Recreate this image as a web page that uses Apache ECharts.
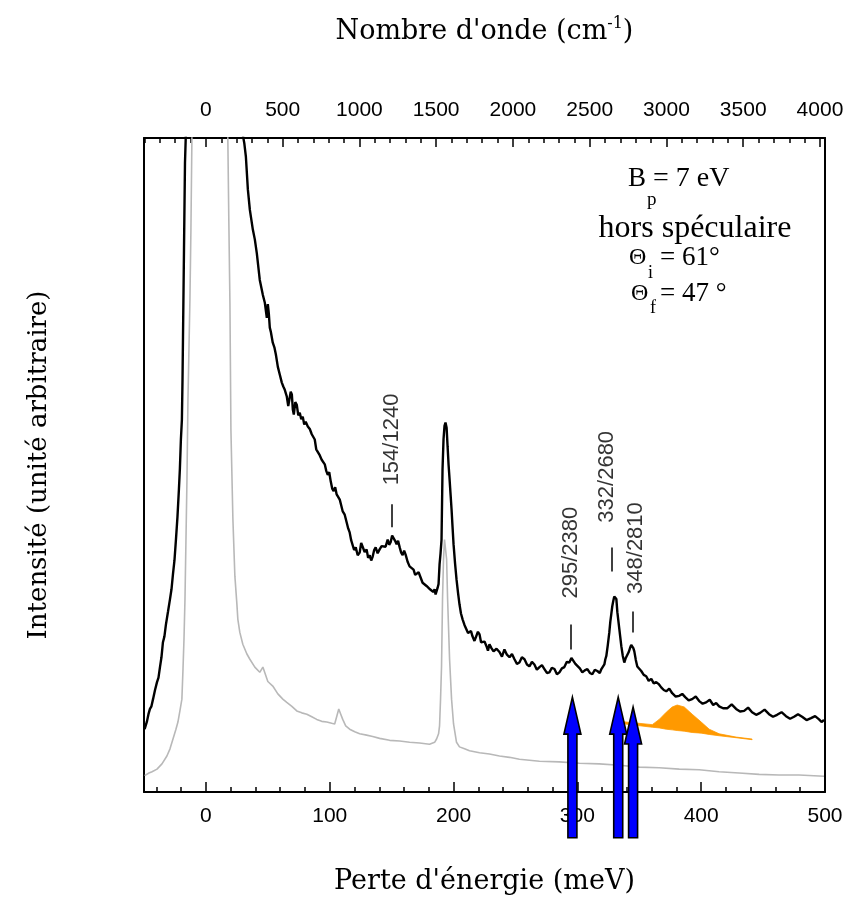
<!DOCTYPE html>
<html><head><meta charset="utf-8">
<script src="https://cdn.jsdelivr.net/npm/echarts@6/dist/echarts.min.js"></script>
<style>html,body{margin:0;padding:0;background:#fff}#c{width:853px;height:900px}</style>
</head><body><div id="c"></div>
<script>
// ---- data (energy loss in meV, intensity in arbitrary units 0-100) ----
const blackSpectrum = [
[-49.5,9.6],[-47.6,10.8],[-46.4,11.9],[-45.2,12.7],[-44.0,13.1],[-42.7,14.2],[-41.1,15.6],[-39.5,16.8],[-38.3,17.5],[-37.1,19.1],[-35.9,20.6],[-34.7,22.9],[-33.5,23.8],[-32.3,25.6],[-30.6,27.6],[-29.0,29.5],[-27.8,31.0],[-26.6,33.3],[-25.4,35.4],[-24.2,38.6],[-23.0,42.0],[-21.8,46.3],[-21.0,49.5],[-20.2,53.9],[-19.4,56.9],[-18.9,63.0],[-18.5,69.6],[-17.7,82.9],[-16.9,96.2],[-16.1,101.2],[-12,120],[-5,135],[0,140],[10,138],[20,125],[27,108],
[29.8,100.5],[31.0,99.2],[32.3,97.1],[33.9,92.1],[35.5,89.0],[37.9,86.0],[39.5,84.5],[41.1,82.4],[43.5,78.3],[46.0,76.0],[47.6,74.8],[49.2,72.5],[50.0,74.6],[50.8,73.2],[51.6,71.0],[52.4,70.4],[54.0,68.7],[55.3,68.0],[56.5,66.9],[58.1,65.0],[59.7,63.8],[61.3,62.6],[62.5,62.0],[63.7,61.5],[65.3,60.5],[66.5,59.0],[67.7,59.2],[68.5,61.2],[69.4,60.8],[70.2,58.5],[71.0,57.7],[72.2,59.6],[73.4,59.2],[74.6,57.6],[75.8,58.0],[77.0,57.0],[78.2,57.4],[79.4,56.2],[80.6,56.6],[82.3,55.9],[83.9,55.5],[85.5,54.7],[86.7,55.0],[87.9,53.9],[89.1,52.4],[90.3,52.1],[91.9,51.5],[93.5,50.8],[94.8,51.1],[96.0,50.1],[97.2,49.1],[98.4,48.5],[99.6,48.9],[100.8,47.5],[102.0,46.4],[103.2,46.0],[104.4,46.6],[105.6,45.5],[106.8,45.6],[108.1,44.7],[109.3,43.8],[110.5,42.9],[112.1,42.4],[113.7,41.2],[114.9,40.3],[116.1,39.7],[117.3,38.5],[118.5,38.2],[119.7,37.0],[121.0,37.4],[122.6,36.2],[124.2,36.6],[125.4,38.1],[126.6,37.9],[128.2,36.7],[129.8,37.1],[131.0,35.8],[132.3,36.2],[133.5,35.4],[134.7,36.0],[135.9,37.0],[137.1,37.4],[138.7,36.5],[140.3,37.1],[141.9,37.6],[143.5,37.9],[145.1,37.5],[146.8,38.6],[148.0,37.8],[149.2,38.2],[150.4,39.2],[151.6,38.9],[152.8,38.4],[154.0,37.9],[155.2,38.4],[156.5,37.4],[157.7,36.6],[158.9,36.2],[160.1,36.9],[161.3,36.3],[162.9,35.2],[164.5,34.5],[166.1,34.8],[167.7,34.0],[169.0,33.2],[170.2,33.3],[171.8,33.6],[173.4,32.8],[175.0,32.0],[176.6,32.1],[178.2,31.5],[179.8,31.8],[181.0,31.0],[182.3,31.3],[183.5,30.6],[184.7,31.0],[185.5,30.2],[186.3,30.7],[187.1,31.2],[187.9,31.8],[188.7,34.8],[189.5,36.5],[190.3,38.6],[191.1,49.3],[191.9,53.9],[192.7,56.0],[193.5,56.5],[194.4,55.7],[195.2,52.8],[196.0,50.0],[196.8,47.8],[197.6,45.5],[198.4,43.2],[199.2,40.5],[200.0,37.9],[201.2,35.0],[202.4,32.5],[203.6,30.5],[204.8,28.7],[206.0,27.3],[207.3,26.4],[208.9,25.5],[210.5,25.2],[211.7,24.3],[212.9,24.1],[214.1,24.6],[215.3,23.8],[216.9,23.1],[218.5,23.4],[219.7,24.5],[221.0,24.1],[222.2,22.9],[223.4,22.6],[225.0,23.0],[226.6,22.3],[227.8,21.6],[229.0,22.6],[230.6,22.0],[232.3,21.5],[234.7,21.9],[237.1,21.4],[239.1,20.7],[241.1,21.8],[243.1,21.0],[245.2,20.6],[247.2,21.1],[249.2,20.3],[251.2,19.6],[253.2,19.8],[255.2,20.6],[257.3,20.3],[259.3,19.5],[261.3,19.2],[263.3,19.9],[265.3,19.5],[267.3,18.7],[269.4,19.1],[271.4,19.4],[273.4,18.8],[275.4,18.2],[277.4,18.3],[279.4,19.0],[281.5,18.8],[283.5,18.0],[285.5,18.3],[287.5,18.9],[289.5,19.1],[291.5,19.9],[293.5,19.8],[295.2,20.5],[296.8,20.3],[298.4,19.6],[300.0,19.5],[302.0,18.9],[304.0,18.3],[306.0,18.6],[308.1,18.8],[310.1,18.2],[312.1,18.0],[314.1,18.7],[316.1,18.5],[318.1,18.2],[319.4,18.8],[320.6,19.0],[321.8,19.5],[322.6,20.3],[323.4,20.8],[324.6,22.5],[325.8,24.4],[326.6,26.0],[327.4,27.2],[328.2,28.4],[329.0,29.2],[329.8,29.9],[330.6,29.8],[331.5,29.5],[332.3,27.5],[333.1,26.2],[333.9,24.9],[334.7,23.6],[335.5,22.3],[336.7,20.8],[337.9,19.8],[339.1,20.5],[340.3,20.8],[341.5,21.4],[342.7,22.1],[343.5,22.5],[344.4,22.6],[345.2,22.0],[346.0,21.5],[347.2,20.2],[348.4,19.2],[350.0,18.9],[351.6,18.5],[353.6,17.9],[355.6,17.7],[357.6,17.0],[359.7,17.3],[361.7,16.6],[363.7,16.8],[365.7,16.5],[367.7,16.0],[369.8,15.6],[371.8,15.4],[374.2,15.8],[376.6,15.1],[379.4,14.6],[382.3,14.7],[384.7,15.0],[387.1,14.5],[389.9,14.0],[392.7,14.2],[395.6,14.6],[398.4,13.9],[401.2,13.5],[404.0,13.7],[406.9,14.1],[409.7,13.3],[412.1,13.6],[414.5,13.1],[417.7,12.8],[421.0,12.8],[424.6,13.4],[428.2,12.7],[431.4,12.3],[434.7,12.4],[437.9,12.9],[441.1,12.2],[444.4,11.8],[447.6,12.1],[451.2,12.6],[454.8,11.9],[458.0,11.5],[461.3,11.8],[464.9,12.2],[468.5,11.6],[471.8,11.2],[475.0,11.5],[478.2,11.9],[481.5,11.5],[485.1,11.0],[488.7,11.3],[492.0,11.6],[495.2,11.1],[497.2,10.7],[499.2,11.0]
];
const greySpectrum = [
[-49.5,2.5],[-46.0,2.9],[-43.5,3.1],[-39.5,3.5],[-35.5,4.3],[-31.5,5.5],[-29.0,6.6],[-26.6,8.1],[-24.2,9.6],[-22.6,10.7],[-21.0,12.4],[-19.4,14.2],[-18.5,18.8],[-17.7,23.4],[-16.9,29.5],[-15.3,47.8],[-14.5,60.0],[-12.9,75.3],[-12.1,86.0],[-11.3,100.0],[-8,130],[0,150],[10,140],[16,120],[17.7,100],[18.5,87.5],[19.4,74.8],[20.2,55.4],[21.8,41.7],[23.4,33.0],[25.0,28.8],[25.8,26.4],[27.4,24.4],[29.8,22.6],[33.1,21.1],[35.5,20.3],[39.5,19.1],[43.5,18.3],[46.0,19.1],[47.6,18.8],[50.0,16.9],[54.0,16.2],[58.1,15.0],[62.1,14.2],[65.3,13.7],[69.4,13.1],[73.4,12.4],[77.4,12.1],[81.5,11.9],[85.5,11.5],[89.5,11.1],[93.5,10.8],[97.6,10.7],[101.6,10.5],[104.0,10.4],[105.6,11.5],[107.3,12.7],[108.9,11.9],[110.5,11.1],[112.9,10.1],[116.1,9.6],[120.2,9.2],[124.2,8.9],[129.8,8.7],[134.7,8.5],[140.3,8.2],[148.4,7.9],[156.5,7.8],[164.5,7.6],[172.6,7.5],[180.6,7.3],[184.7,7.6],[186.3,8.1],[187.9,8.9],[188.7,10.1],[189.5,14.2],[190.3,19.2],[191.1,29.5],[191.9,35.6],[192.7,38.6],[193.5,38.6],[194.4,35.6],[195.2,29.5],[196.8,20.3],[198.4,14.2],[200.0,10.4],[202.4,7.6],[204.8,6.9],[208.9,6.6],[212.9,6.3],[221.0,6.0],[229.0,5.8],[237.1,5.5],[245.2,5.3],[253.2,5.0],[269.4,4.7],[285.5,4.6],[301.6,4.4],[317.7,4.3],[333.9,4.1],[350.0,3.8],[366.1,3.7],[382.3,3.5],[398.4,3.4],[414.5,3.1],[430.6,2.9],[446.8,2.7],[462.9,2.6],[479.0,2.6],[499.2,2.4]
];
const orangeE    = [333.9, 360.5, 366.1, 371.8, 376.6, 380.6, 386.3, 392.7, 400.0, 406.5, 414.5, 428.2, 441.1];
const orangeTop  = [10.8, 10.3, 11.1, 12.2, 13.0, 13.3, 13.0, 11.9, 10.7, 9.6, 8.9, 8.4, 8.1];
const orangeBase = [10.5, 9.9, 9.8, 9.6, 9.5, 9.4, 9.3, 9.1, 9.0, 8.8, 8.6, 8.3, 8.0];
const arrowE    = [296, 333, 345];
const arrowTip  = [14.5, 14.5, 13.0];
const arrowBase = -7;
const peakLabels     = ['154/1240', '295/2380', '332/2680', '348/2810'];
const peakLabelE     = [150.4, 295.2, 324.0, 347.6];
const peakLabelI     = [53.9, 36.6, 48.2, 37.3];
const peakTickE      = [150.0, 295.0, 328.0, 345.0];
const peakTickTop    = [44.0, 25.6, 37.4, 27.6];
const peakTickBottom = [40.5, 21.8, 33.7, 24.4];
const meVMajor = [0, 100, 200, 300, 400, 500];
const cmMajor  = [0, 500, 1000, 1500, 2000, 2500, 3000, 3500, 4000];
const CM_PER_MEV = 8.0655;
const E_MIN = -50, E_MAX = 500;

const meVMinor = [];
for (let v = -40; v < 500; v += 20) if (v % 100 !== 0) meVMinor.push(v);
const cmMinor = [];
for (let v = -400; v < 4000; v += 100) if (v % 500 !== 0 && v > E_MIN * CM_PER_MEV) cmMinor.push(v);

const chart = echarts.init(document.getElementById('c'), null, {renderer: 'canvas'});
const sans = '"Liberation Sans", Arial, sans-serif';
const serif = '"Liberation Serif", "Times New Roman", serif';
const titleSerif = '"DejaVu Serif", serif';
const plain = v => String(Math.round(v));

function axisBase(pos, min, max) {
  return {type: 'value', position: pos, min: min, max: max, splitLine: {show: false}};
}
const option = {
  animation: false,
  backgroundColor: '#fff',
  grid: {left: 144, right: 28, top: 138, bottom: 107, containLabel: false},
  xAxis: [
    Object.assign(axisBase('bottom', E_MIN, E_MAX), {
      axisLine: {onZero: false, lineStyle: {color: '#000', width: 2}},
      axisTick: {inside: true, length: 10, customValues: meVMajor, lineStyle: {color: '#000', width: 1.5}},
      axisLabel: {customValues: meVMajor, formatter: plain, color: '#000', fontSize: 21, fontFamily: sans, margin: 14},
      name: "Perte d'énergie (meV)", nameLocation: 'middle', nameGap: 76,
      nameTextStyle: {fontFamily: titleSerif, fontSize: 27, color: '#000'}
    }),
    Object.assign(axisBase('bottom', E_MIN, E_MAX), {
      axisLine: {show: false, onZero: false},
      axisTick: {inside: true, length: 5, customValues: meVMinor, lineStyle: {color: '#000', width: 1.5}},
      axisLabel: {show: false}
    }),
    Object.assign(axisBase('top', E_MIN * CM_PER_MEV, E_MAX * CM_PER_MEV), {
      axisLine: {onZero: false, lineStyle: {color: '#000', width: 2}},
      axisTick: {inside: true, length: 9, customValues: cmMajor, lineStyle: {color: '#000', width: 1.5}},
      axisLabel: {customValues: cmMajor, formatter: plain, color: '#000', fontSize: 21, fontFamily: sans, margin: 17},
      name: "{a|Nombre d'onde (cm}{s|-1}{a|)}", nameLocation: 'middle', nameGap: 90,
      nameTextStyle: {fontFamily: titleSerif, fontSize: 27, color: '#000',
        rich: {a: {fontFamily: titleSerif, fontSize: 27, color: '#000', lineHeight: 32},
               s: {fontFamily: titleSerif, fontSize: 16, color: '#000', verticalAlign: 'top', lineHeight: 32, padding: [0, 0, 12, 0]}}}
    }),
    Object.assign(axisBase('top', E_MIN * CM_PER_MEV, E_MAX * CM_PER_MEV), {
      axisLine: {show: false, onZero: false},
      axisTick: {inside: true, length: 5, customValues: cmMinor, lineStyle: {color: '#000', width: 1.5}},
      axisLabel: {show: false}
    })
  ],
  yAxis: [
    {type: 'value', position: 'left', min: 0, max: 100, splitLine: {show: false},
     axisLine: {show: true, onZero: false, lineStyle: {color: '#000', width: 2}}, axisTick: {show: false}, axisLabel: {show: false},
     name: 'Intensité (unité arbitraire)', nameLocation: 'middle', nameGap: 92, nameRotate: 90,
     nameTextStyle: {fontFamily: titleSerif, fontSize: 26, color: '#000'}},
    {type: 'value', position: 'right', min: 0, max: 100, splitLine: {show: false},
     axisLine: {show: true, onZero: false, lineStyle: {color: '#000', width: 2}}, axisTick: {show: false}, axisLabel: {show: false}}
  ],
  series: [
    {type: 'line', name: 'ref', data: greySpectrum, showSymbol: false, symbol: 'none', z: 2,
     lineStyle: {color: '#b8b8b8', width: 1.6}, clip: true},
    {type: 'line', name: 'sample', data: blackSpectrum, showSymbol: false, symbol: 'none', z: 3,
     lineStyle: {color: '#000', width: 2.4}, clip: true},
    {type: 'custom', name: 'orange', z: 4, data: [[orangeE[0], orangeTop[0]]],
     renderItem: function (params, api) {
       const top = orangeE.map((e, i) => api.coord([e, orangeTop[i]]));
       const bot = orangeE.map((e, i) => api.coord([e, orangeBase[i]])).reverse();
       return {type: 'polygon', shape: {points: top.concat(bot)}, style: {fill: '#ff9900', stroke: '#ff9900', lineWidth: 0.8}};
     }},
    {type: 'custom', name: 'arrows', z: 5, clip: false,
     data: arrowE.map((e, i) => [e, arrowTip[i], arrowBase]),
     renderItem: function (params, api) {
       const tip = api.coord([api.value(0), api.value(1)]);
       const base = api.coord([api.value(0), api.value(2)]);
       const x = tip[0], y = tip[1], hw = 8.5, sw = 4.5, hh = 37;
       return {type: 'polygon', shape: {points: [[x, y], [x + hw, y + hh], [x + sw, y + hh], [x + sw, base[1]], [x - sw, base[1]], [x - sw, y + hh], [x - hw, y + hh]]},
               style: {fill: '#0000ff', stroke: '#000', lineWidth: 1.6}};
     }},
    {type: 'scatter', name: 'peaks', z: 6, symbolSize: 0,
     data: peakLabels.map((t, i) => ({name: t, value: [peakLabelE[i], peakLabelI[i]]})),
     label: {show: true, position: 'inside', formatter: '{b}', rotate: 90, color: '#000', fontSize: 22, fontFamily: sans},
     markLine: {symbol: 'none', silent: true, animation: false, label: {show: false},
       lineStyle: {color: '#000', width: 1.5, type: 'solid'},
       data: peakTickE.map((e, i) => [{coord: [e, peakTickTop[i]]}, {coord: [e, peakTickBottom[i]]}])}}
  ],
  graphic: [
    {type: 'text', x: 628, y: 179, style: {text: 'B', font: '27px ' + serif, fill: '#000', verticalAlign: 'middle'}},
    {type: 'text', x: 647, y: 200, style: {text: 'p', font: '19px ' + serif, fill: '#000', verticalAlign: 'middle'}},
    {type: 'text', x: 653, y: 179, style: {text: '= 7 eV', font: '28px ' + serif, fill: '#000', verticalAlign: 'middle'}},
    {type: 'text', x: 695, y: 229, style: {text: 'hors spéculaire', font: '32px ' + serif, fill: '#000', align: 'center', verticalAlign: 'middle'}},
    {type: 'text', x: 629, y: 258, style: {text: 'Θ', font: '24px ' + serif, fill: '#000', verticalAlign: 'middle'}},
    {type: 'text', x: 648, y: 273, style: {text: 'i', font: '18px ' + serif, fill: '#000', verticalAlign: 'middle'}},
    {type: 'text', x: 660, y: 258, style: {text: '= 61°', font: '27px ' + serif, fill: '#000', verticalAlign: 'middle'}},
    {type: 'text', x: 631, y: 294, style: {text: 'Θ', font: '24px ' + serif, fill: '#000', verticalAlign: 'middle'}},
    {type: 'text', x: 650, y: 308, style: {text: 'f', font: '18px ' + serif, fill: '#000', verticalAlign: 'middle'}},
    {type: 'text', x: 660, y: 294, style: {text: '= 47 °', font: '27px ' + serif, fill: '#000', verticalAlign: 'middle'}}
  ]
};
chart.setOption(option);
</script></body></html>
